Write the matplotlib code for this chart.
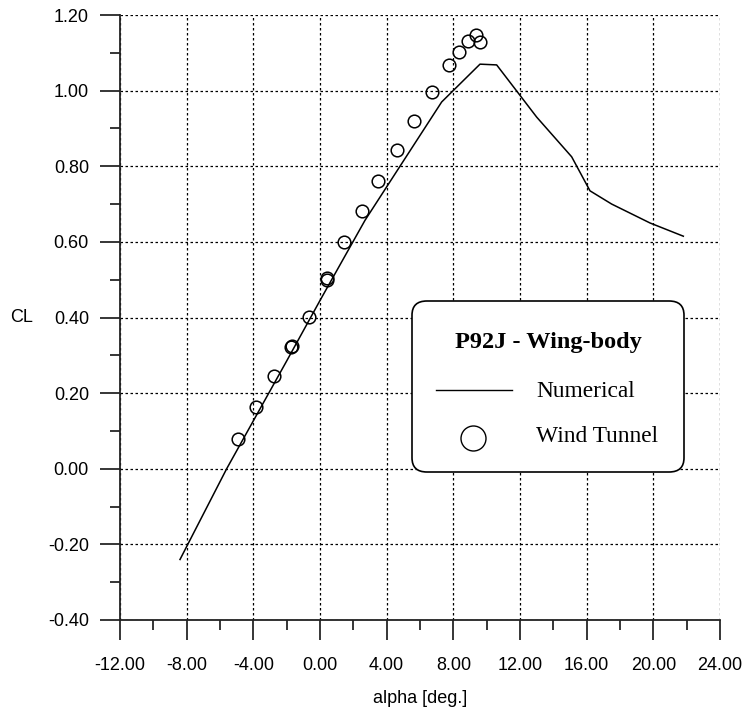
import matplotlib.pyplot as plt
from matplotlib.patches import FancyBboxPatch
from matplotlib.lines import Line2D
from matplotlib.ticker import MultipleLocator, FormatStrFormatter

# numerical solution
alpha_num = [-8.4, -5.6, -2.0, 0.0, 2.7, 4.8, 7.3, 9.6, 10.6, 13.0, 15.1, 16.2, 17.5, 19.8, 21.8]
cl_num = [-0.24, 0.0, 0.285, 0.445, 0.657, 0.80, 0.97, 1.07, 1.068, 0.93, 0.825, 0.735, 0.70, 0.65, 0.615]

# wind tunnel measurements
alpha_wt = [-4.9, -3.84, -2.78, -1.72, -1.70, -0.68, 0.40, 0.42, 1.44, 2.52, 3.48,
            4.62, 5.64, 6.74, 7.76, 8.34, 8.9, 9.35, 9.6]
cl_wt = [0.080, 0.162, 0.246, 0.321, 0.325, 0.402, 0.499, 0.505, 0.599, 0.681, 0.760,
         0.842, 0.919, 0.996, 1.068, 1.103, 1.130, 1.148, 1.128]

sans = ['Liberation Sans', 'DejaVu Sans']
serif = ['Liberation Serif', 'DejaVu Serif']

fig = plt.figure(figsize=(7.44, 7.08), dpi=100)
ax = fig.add_axes([120/744, 1 - 620/708, 600/744, 605/708])

ax.plot(alpha_num, cl_num, color='black', lw=1.1, zorder=3)
ax.plot(alpha_wt, cl_wt, ls='none', marker='o', ms=9.1, mfc='none',
        mec='black', mew=1.1, zorder=4)

ax.set_xlim(-12, 24)
ax.set_ylim(-0.4, 1.2)
ax.xaxis.set_major_locator(MultipleLocator(4))
ax.xaxis.set_minor_locator(MultipleLocator(2))
ax.yaxis.set_major_locator(MultipleLocator(0.2))
ax.yaxis.set_minor_locator(MultipleLocator(0.1))
ax.xaxis.set_major_formatter(FormatStrFormatter('%.2f'))
ax.yaxis.set_major_formatter(FormatStrFormatter('%.2f'))

ax.grid(True, which='major', color='black', lw=0.9, ls=(0, (2, 2)))
ax.spines['top'].set_visible(False)
ax.spines['right'].set_visible(False)
for s in ['left', 'bottom']:
    ax.spines[s].set_linewidth(1.3)
    ax.spines[s].set_color('#222222')

ax.tick_params(which='major', direction='out', length=14.4, width=1.1, pad=8)
ax.tick_params(which='minor', direction='out', length=7.2, width=1.1)
ax.tick_params(axis='x', which='major', pad=12)
for lab in ax.get_xticklabels() + ax.get_yticklabels():
    lab.set_family(sans)
    lab.set_fontsize(13)

ax.set_xlabel('alpha [deg.]', family=sans, fontsize=13, labelpad=12)
fig.text(22/744, 1 - 317/708, 'CL', family=sans, fontsize=13, ha='center', va='center')

# legend box
box = FancyBboxPatch((412/744, 1 - 472/708), 272/744, 171/708,
                     boxstyle='round,pad=0,rounding_size=0.02',
                     transform=fig.transFigure, facecolor='white',
                     edgecolor='black', lw=1.2, zorder=5)
fig.add_artist(box)
fig.text(548/744, 1 - 342/708, 'P92J - Wing-body', family=serif, fontweight='bold',
         fontsize=17.5, ha='center', va='center', zorder=6)
fig.add_artist(Line2D([436/744, 512/744], [1 - 390/708, 1 - 390/708],
                      transform=fig.transFigure, color='black', lw=1.0, zorder=6))
fig.add_artist(Line2D([473/744], [1 - 438/708], transform=fig.transFigure,
                      marker='o', ms=18, mfc='none', mec='black', mew=1.0, zorder=6))
fig.text(536/744, 1 - 391/708, 'Numerical', family=serif, fontsize=16.8,
         ha='left', va='center', zorder=6)
fig.text(536/744, 1 - 437/708, 'Wind Tunnel', family=serif, fontsize=16.8,
         ha='left', va='center', zorder=6)

fig.savefig('out.png', dpi=100)
